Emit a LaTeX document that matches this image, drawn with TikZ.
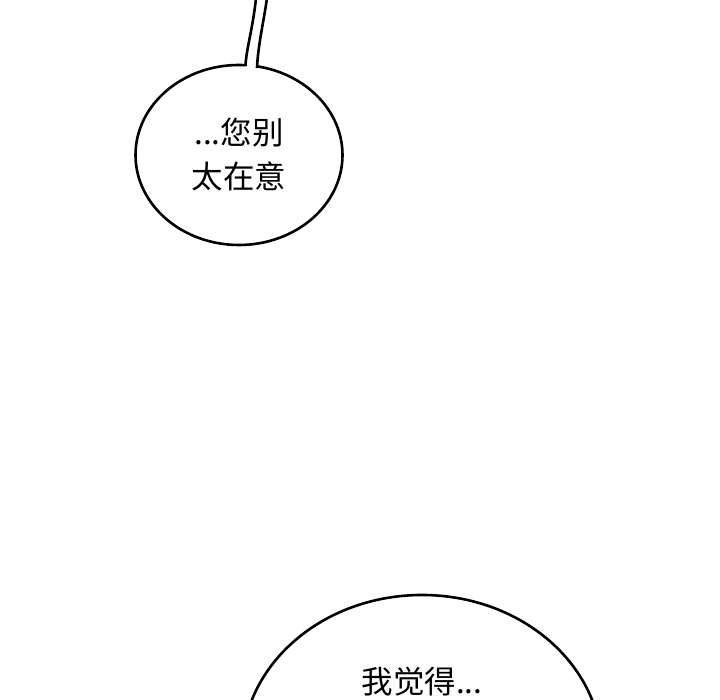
\documentclass[tikz,border=0pt]{standalone}
\usepackage{fontspec}
\newfontfamily\cjk{Noto Sans CJK SC}
\usetikzlibrary{shapes.geometric}

\tikzset{
  bubble/.style={draw, ellipse, line width=2.6pt, fill=white, inner sep=0pt,
    align=center, font=\cjk\fontsize{31.5}{44}\selectfont},
  tailline/.style={line width=2.6pt}
}

\begin{document}
\begin{tikzpicture}[x=1pt,y=1pt]
\useasboundingbox (0,0) rectangle (720,700);
\clip (0,0) rectangle (720,700);
\fill[white] (0,0) rectangle (720,700);
% upper bubble with tail
\node[bubble, minimum width=207pt, minimum height=180pt] (ask) at (239,545) {...您别\\太在意};
\coordinate (tl0) at (256,702);
\coordinate (tl1) at (245.5,634);
\coordinate (tr0) at (267,702);
\coordinate (tr1) at (257,632);
\fill[white] (tl0) .. controls (253,672) and (246,650) .. (tl1) -- (245.5,625) -- (257,625)
  -- (tr1) .. controls (258,655) and (264,680) .. (tr0) -- cycle;
\draw[tailline] (tl0) .. controls (253,672) and (246,650) .. (tl1);
\draw[tailline] (tr0) .. controls (264,680) and (258,655) .. (tr1);
% lower bubble, cut by the bottom edge
\node[bubble, minimum width=360pt, minimum height=312pt] (say) at (422,-51) {};
\node[font=\cjk\fontsize{31.5}{44}\selectfont] (sayt) at (422,18) {我觉得...};
\end{tikzpicture}
\end{document}
